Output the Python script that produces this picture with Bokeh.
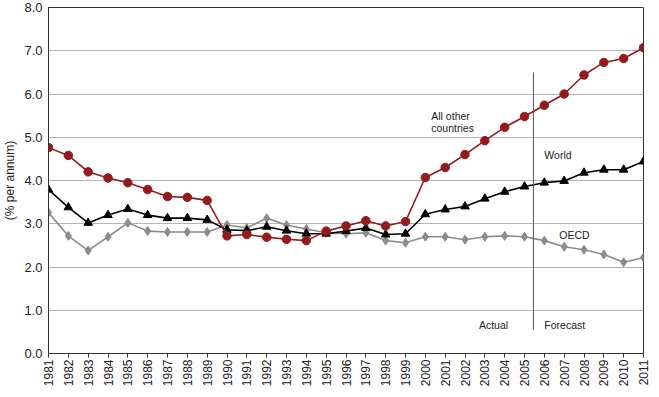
import math
from bokeh.plotting import figure
from bokeh.models import Range1d, FixedTicker, ColumnDataSource, NumeralTickFormatter
from bokeh.core.properties import value
from bokeh.embed import file_html
from bokeh.resources import INLINE

years = list(range(1981, 2012))

all_other = [4.76, 4.58, 4.20, 4.06, 3.95, 3.79, 3.63, 3.61, 3.54, 2.72,
             2.75, 2.69, 2.64, 2.61, 2.83, 2.95, 3.07, 2.95, 3.05, 4.07,
             4.30, 4.60, 4.92, 5.23, 5.48, 5.74, 6.00, 6.44, 6.73, 6.82, 7.07]

world = [3.79, 3.38, 3.02, 3.20, 3.34, 3.20, 3.13, 3.13, 3.09, 2.86,
         2.84, 2.93, 2.84, 2.77, 2.77, 2.83, 2.90, 2.75, 2.77, 3.22,
         3.33, 3.40, 3.58, 3.74, 3.86, 3.95, 3.99, 4.18, 4.25, 4.25, 4.44]

oecd = [3.26, 2.72, 2.38, 2.70, 3.02, 2.83, 2.81, 2.81, 2.81, 2.97,
        2.90, 3.13, 2.97, 2.88, 2.79, 2.77, 2.79, 2.61, 2.56, 2.70,
        2.70, 2.63, 2.70, 2.72, 2.70, 2.61, 2.47, 2.40, 2.29, 2.11, 2.22]

y_ticks = [0, 1, 2, 3, 4, 5, 6, 7, 8]

divider_x = [2005.45]
divider_y0 = [0.55]
divider_y1 = [6.5]

label_text = ["All other", "countries", "World", "OECD", "Actual", "Forecast"]
label_x = [2000.3, 2000.3, 2006.0, 2006.75, 2002.7, 2006.0]
label_y = [5.5, 5.22, 4.58, 2.74, 0.65, 0.65]

RED = "#931b1e"
BLACK = "#000000"
GREY = "#8c8c8c"
FONT = "Liberation Sans"

p = figure(width=651, height=389, output_backend="svg", toolbar_location=None,
           x_range=Range1d(1981, 2011), y_range=Range1d(0, 8),
           min_border_left=41, min_border_right=8, min_border_top=7,
           min_border_bottom=33)

p.outline_line_color = "#333333"
p.outline_line_width = 1
p.xgrid.grid_line_color = None
p.ygrid.grid_line_color = "#b4b4b4"
p.ygrid.grid_line_width = 1
p.background_fill_color = "white"
p.border_fill_color = "white"

p.xaxis.ticker = FixedTicker(ticks=years)
p.xaxis.major_label_orientation = math.pi / 2
p.xaxis.major_label_text_font = FONT
p.xaxis.major_label_text_font_size = "12px"
p.xaxis.major_label_text_color = "#222222"
p.xaxis.major_tick_out = 4
p.xaxis.major_tick_in = 0
p.xaxis.minor_tick_line_color = None
p.xaxis.axis_line_color = "#333333"
p.xaxis.major_tick_line_color = "#333333"
p.xaxis.major_label_standoff = 2

p.yaxis.ticker = FixedTicker(ticks=y_ticks)
p.yaxis.formatter = NumeralTickFormatter(format="0.0")
p.yaxis.major_label_text_font = FONT
p.yaxis.major_label_text_font_size = "13px"
p.yaxis.major_label_text_color = "#222222"
p.yaxis.major_tick_out = 0
p.yaxis.major_tick_in = 0
p.yaxis.minor_tick_line_color = None
p.yaxis.axis_line_color = "#333333"
p.yaxis.major_label_standoff = 6
p.yaxis.axis_label = "(% per annum)"
p.yaxis.axis_label_text_font = FONT
p.yaxis.axis_label_text_font_style = "normal"
p.yaxis.axis_label_text_font_size = "12px"
p.yaxis.axis_label_text_color = "#222222"
p.yaxis.axis_label_standoff = 4

src = ColumnDataSource(dict(year=years, other=all_other, world=world, oecd=oecd))

p.line("year", "oecd", source=src, line_color=GREY, line_width=1.6)
p.scatter("year", "oecd", source=src, marker="diamond", size=9,
          fill_color=GREY, line_color=GREY)

p.line("year", "world", source=src, line_color=BLACK, line_width=1.6)
p.scatter("year", "world", source=src, marker="triangle", size=8.5,
          fill_color=BLACK, line_color=BLACK)

p.line("year", "other", source=src, line_color=RED, line_width=1.6)
p.scatter("year", "other", source=src, marker="circle", size=8.5,
          fill_color=RED, line_color=RED)

p.segment(x0=divider_x, y0=divider_y0, x1=divider_x, y1=divider_y1,
          line_color="#555555", line_width=1)

p.text(x=label_x, y=label_y, text=label_text, text_font=value(FONT),
       text_font_size="10.5px", text_color="#222222",
       text_baseline="middle", text_align="left")

open("out.html", "w").write(file_html(p, INLINE))
